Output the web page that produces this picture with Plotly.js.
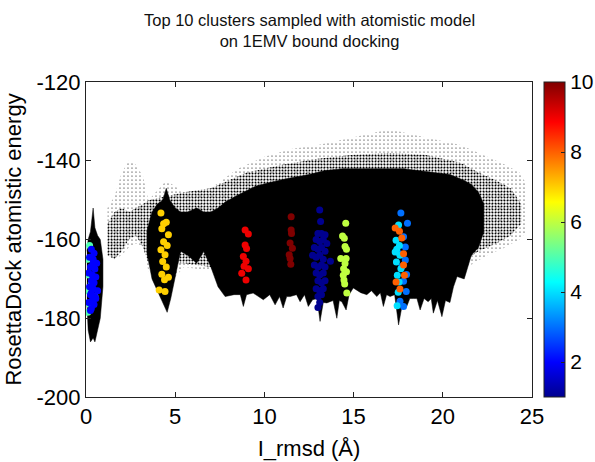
<!DOCTYPE html>
<html>
<head>
<meta charset="utf-8">
<script src="https://cdn.plot.ly/plotly-3.0.1.min.js"></script>
<style>html,body{margin:0;padding:0;background:#fff;}#chart{width:595px;height:462px;}</style>
</head>
<body>
<div id="chart"></div>
<script>
// ---- Decoy cloud (all sampled decoys), read as envelopes from the picture ----
// sparse outer halo of scattered decoys
const outerX   = [1.2, 1.6, 2.0, 2.4, 2.8, 3.2, 3.5, 4.5, 5.5, 7.0, 8.5, 10.0, 11.5, 13.0, 15.0, 17.0, 19.0, 21.0, 22.5, 23.5, 24.3, 24.7];
const outerTop = [-152, -149, -143, -140, -141, -144, -150, -145, -148, -147, -142, -139, -137, -136, -134, -132, -134, -136, -139, -141, -143, -146];
const outerBot = [-164, -165, -164, -162, -161, -162, -168, -172, -167, -168, -168, -168, -168, -168, -168, -168, -168, -168, -164, -162, -160, -158];
// medium-density decoys
const medX   = [1.2, 1.6, 2.0, 2.4, 2.8, 3.2, 3.5, 5.5, 7.0, 9.0, 11.0, 13.0, 15.0, 17.0, 19.0, 21.0, 22.0, 23.0, 23.8, 24.4];
const medTop = [-156, -153, -152, -153, -152, -151, -150, -148, -147, -143, -141, -139.5, -138.5, -138, -138.5, -140.5, -143, -145, -147, -151];
const medBot = [-164, -165, -163, -160, -159, -162, -166, -166, -167, -166, -166, -166, -166, -166, -166, -166, -163, -161, -159, -156];
// dense core of decoys (main mass): upper edge
const coreTopX = [3.4, 3.7, 4.0, 4.3, 4.5, 4.7, 5.0, 5.3, 5.7, 6.2, 6.6, 7.0, 7.4, 7.8, 8.6, 9.5, 10.3, 11.3, 12.5, 13.4, 14.4, 15.5, 16.7, 17.8, 18.6, 19.5, 20.4, 21.2, 21.6, 22.0, 22.3];
const coreTop  = [-158, -153, -151, -150, -147, -150, -152, -153, -153, -152, -153, -153, -152, -150.5, -148.5, -146.5, -145.5, -144.5, -143.5, -142.5, -142, -142, -142, -142, -142.5, -143, -143.5, -145, -146, -148, -151];
// dense core: jagged lower edge
const coreBotX = [3.4, 3.7, 4.0, 4.3, 4.55, 4.75, 5.0, 5.3, 5.7, 6.2, 6.6, 7.0, 7.4, 7.8, 8.3, 8.65, 8.82, 9.0, 9.37, 9.94, 10.3, 10.6, 10.85, 11.05, 11.25, 11.44, 11.8, 12.0, 12.25, 12.46, 12.7, 12.95, 13.12, 13.3, 13.5, 13.85, 14.06, 14.2, 14.34, 14.58, 14.75, 14.98, 15.4, 15.74, 16.0, 16.3, 16.5, 16.67, 16.85, 17.05, 17.3, 17.52, 17.75, 17.98, 18.15, 18.35, 18.55, 18.73, 18.95, 19.18, 19.35, 19.47, 19.7, 19.95, 20.15, 20.4, 20.6, 20.8, 21.2, 21.6, 22.0, 22.3];
const coreBot  = [-163, -170, -173, -176, -178.5, -175, -170, -163, -164, -166, -163, -167, -172, -174.5, -174, -174, -177, -174, -173.6, -175.3, -174, -176.6, -174.5, -177.4, -174.5, -174.5, -174, -175.8, -174, -177, -175.3, -175, -180.8, -176, -176.1, -175.5, -180, -175.5, -175.8, -177.9, -174, -172.3, -173.5, -174, -173, -174.5, -173.5, -177, -174, -174.5, -174, -181.7, -176, -177, -175, -175, -175, -177.9, -175, -175.8, -175, -178.7, -175.5, -179.6, -175.5, -176, -172, -169.4, -170, -164, -162, -158];
// dense core near the native (I_rmsd ~ 0.4)
const leftX   = [0.05, 0.12, 0.25, 0.4, 0.5, 0.65, 0.8, 0.95];
const leftTop = [-163, -160, -158, -152, -157, -159, -160, -165];
const leftBot = [-176, -183, -186, -185, -186, -183, -180, -172];

// ---- Top 10 clusters (rank = colour value) ----
const c1x = [13.1,13.15,13.0,13.2,13.4,12.9,13.1,13.3,13.5,12.8,13.0,13.2,13.4,12.7,12.9,13.1,13.3,13.7,12.8,13.0,13.2,13.4,12.9,13.1,13.3,13.0,13.2,13.4,12.9,13.1,13.3,13.0,13.2,13.1,13.0];
const c1y = [-152.5,-155.4,-158.5,-158.5,-158.8,-160,-160.5,-160,-161,-162,-162.5,-162,-163,-164,-164.5,-164,-165,-165.5,-166.5,-167,-166.5,-167,-168.5,-169,-168.5,-170.5,-171,-170.5,-172.5,-173,-172.5,-174.5,-174,-176,-177.3];
const c2x = [0.3,0.45,0.2,0.4,0.6,0.25,0.5,0.15,0.35,0.55,0.3,0.45,0.2,0.4,0.65,0.25,0.5,0.35,0.15,0.45,0.3,0.55,0.25,0.4,0.3];
const c2y = [-162.5,-163.5,-164.5,-165,-166,-167,-167.5,-168.5,-169,-169.5,-170.5,-171,-172,-172.5,-173,-174,-174.5,-175.5,-176,-176.5,-177.5,-175,-178,-166,-173.5];
const c3x = [17.65,18.02,17.8,17.9,17.58,17.9,17.7,17.97,17.8,17.95,17.6,17.8];
const c3y = [-153.3,-155.9,-159.3,-161.9,-163.6,-165.2,-166.9,-168.9,-170.6,-173.2,-175.7,-177];
const c4x = [17.52,17.38,17.57,17.33,17.6,17.4,17.65,17.45,17.55,17.5,17.44,17.42];
const c4y = [-156.3,-160.2,-161.5,-163.2,-164,-165.7,-167.4,-169.1,-170.8,-173.4,-176.8,-162.5];
const c5x = [0.2,0.1,0.4,0.15,0.3,0.1,0.5,0.2,0.1];
const c5y = [-161.5,-165,-167,-169,-171,-173,-174.5,-176.5,-178.5];
const c6x = [14.56,14.38,14.48,14.52,14.6,14.28,14.58,14.52,14.44,14.6,14.42,14.46,14.5,14.62];
const c6y = [-155.9,-159.1,-159.7,-161.8,-162.5,-164.8,-164.8,-166.1,-167.4,-168.2,-169.1,-170.3,-171.3,-173.6];
const c7x = [4.2,4.5,4.25,4.62,4.35,4.2,4.43,4.3,4.5,4.25,4.62,4.4,4.1,4.43,4.55,4.35];
const c7y = [-153.3,-155.6,-157.3,-158.8,-160.6,-162.6,-163.9,-165.6,-167,-168.8,-169.6,-170.2,-172.8,-173.2,-161.5,-156];
const c8x = [17.33,17.57,17.7,17.8,17.8,17.85,17.38,17.6];
const c8y = [-157.1,-157.9,-159.6,-163.6,-166.5,-169.1,-170.8,-172.6];
const c9x = [8.92,9.1,8.92,9.0,8.82,8.97,8.86,9.1,8.73,8.97];
const c9y = [-157.6,-158.6,-161.4,-162.3,-164.3,-165.5,-166.8,-167.4,-168.6,-170.3];
const c10x = [11.5,11.5,11.52,11.44,11.57,11.39,11.44,11.48];
const c10y = [-154.2,-157.6,-158.5,-160.9,-162.2,-163.9,-164.8,-166.3];

const clusterRanks = [5, 2, 1, 3, 4, 8, 6, 7, 9, 10];   // drawing order
const clusterXs = {1:c1x,2:c2x,3:c3x,4:c4x,5:c5x,6:c6x,7:c7x,8:c8x,9:c9x,10:c10x};
const clusterYs = {1:c1y,2:c2y,3:c3y,4:c4y,5:c5y,6:c6y,7:c7y,8:c8y,9:c9y,10:c10y};

const colorTicks = [2, 4, 6, 8, 10];
const xTicks = [0, 5, 10, 15, 20, 25];
const yTicks = [-200, -180, -160, -140, -120];
const yTickText = ['-200', '-180', '-160', '-140', '-120'];
const titleText = 'Top 10 clusters sampled with atomistic model<br>on 1EMV bound docking';

const FONT = 'Liberation Sans, Arial, sans-serif';
const jet = [[0,'rgb(0,0,143)'],[0.111,'rgb(0,0,255)'],[0.365,'rgb(0,255,255)'],[0.619,'rgb(255,255,0)'],[0.873,'rgb(255,0,0)'],[1,'rgb(128,0,0)']];

function poly(xt, top, xb, bot) {
  return { x: xt.concat(xb.slice().reverse()), y: top.concat(bot.slice().reverse()) };
}

const traces = [];
const pO = poly(outerX, outerTop, outerX, outerBot);
traces.push({type:'scatter', mode:'lines', x:pO.x, y:pO.y, fill:'toself', line:{width:0},
  fillcolor:'rgba(0,0,0,0)', fillpattern:{shape:'.', fgcolor:'#000', bgcolor:'rgba(255,255,255,0)', size:4, solidity:0.07},
  hoverinfo:'skip', showlegend:false});
const pM = poly(medX, medTop, medX, medBot);
traces.push({type:'scatter', mode:'lines', x:pM.x, y:pM.y, fill:'toself', line:{width:0},
  fillcolor:'rgba(0,0,0,0)', fillpattern:{shape:'.', fgcolor:'#000', bgcolor:'rgba(255,255,255,0)', size:3, solidity:0.35},
  hoverinfo:'skip', showlegend:false});
const pC = poly(coreTopX, coreTop, coreBotX, coreBot);
traces.push({type:'scatter', mode:'lines', x:pC.x, y:pC.y, fill:'toself', line:{width:0.5, color:'#000'},
  fillcolor:'#000', hoverinfo:'skip', showlegend:false});
const pL = poly(leftX, leftTop, leftX, leftBot);
traces.push({type:'scatter', mode:'lines', x:pL.x, y:pL.y, fill:'toself', line:{width:0.5, color:'#000'},
  fillcolor:'#000', hoverinfo:'skip', showlegend:false});

const cx = [], cy = [], cc = [];
clusterRanks.forEach(r => {
  clusterXs[r].forEach((v, i) => { cx.push(v); cy.push(clusterYs[r][i]); cc.push(r); });
});
traces.push({type:'scatter', mode:'markers', x:cx, y:cy,
  marker:{size:7, color:cc, coloraxis:'coloraxis', line:{width:0}}, showlegend:false});

const layout = {
  width:595, height:462,
  margin:{l:86, r:63, t:82, b:65, autoexpand:false},
  paper_bgcolor:'#fff', plot_bgcolor:'#fff',
  font:{family:FONT, color:'#000', size:22},
  annotations:[{text:titleText, xref:'paper', yref:'paper', x:0.5, y:1, xanchor:'center', yanchor:'bottom',
    yshift:30, showarrow:false, align:'center', font:{family:FONT, size:16.5, color:'#111'}}],
  xaxis:{range:[0,25], tickvals:xTicks, ticks:'inside', ticklen:5, tickcolor:'#222',
    showline:true, linecolor:'#222', linewidth:1, mirror:'ticks', showgrid:false, zeroline:false,
    tickfont:{size:22}, title:{text:'I_rmsd (Å)', font:{size:22}, standoff:12}},
  yaxis:{range:[-200,-120], tickvals:yTicks, ticktext:yTickText, ticks:'inside', ticklen:5, tickcolor:'#222',
    showline:true, linecolor:'#222', linewidth:1, mirror:'ticks', showgrid:false, zeroline:false,
    tickfont:{size:22}, title:{text:'RosettaDock atomistic energy', font:{size:22}, standoff:8}},
  coloraxis:{cmin:1, cmax:10, colorscale:jet,
    colorbar:{x:1.027, xanchor:'left', xref:'paper', y:0.5, yanchor:'middle', len:1, lenmode:'fraction',
      thickness:21, thicknessmode:'pixels', outlinewidth:1, outlinecolor:'#222', xpad:0, ypad:0,
      tickvals:colorTicks, ticks:'inside', ticklen:4, tickcolor:'#222', tickfont:{size:21}}}
};

Plotly.newPlot('chart', traces, layout, {displayModeBar:false, staticPlot:true});
</script>
</body>
</html>
